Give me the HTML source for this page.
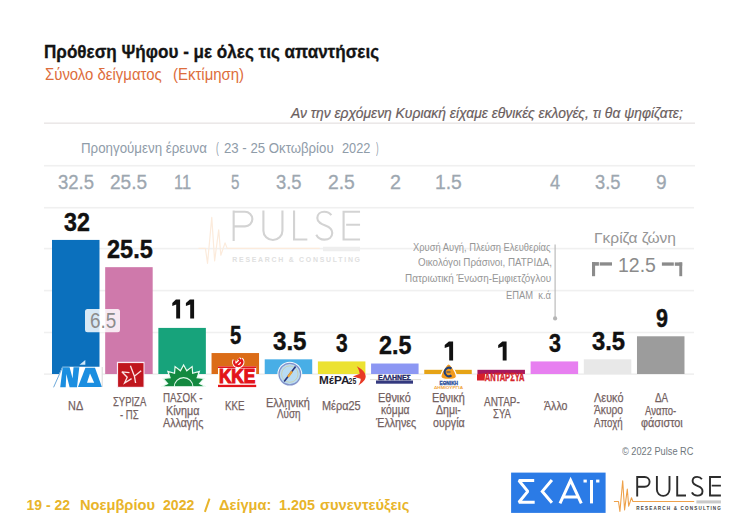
<!DOCTYPE html>
<html><head><meta charset="utf-8"><style>
html,body{margin:0;padding:0;background:#fff;}
body{width:734px;height:526px;position:relative;overflow:hidden;}
.t{position:absolute;white-space:pre;transform-origin:0 0;}
svg{position:absolute;left:0;top:0;}
</style></head><body>
<svg width="734" height="526" viewBox="0 0 734 526">
<rect x="44.00" y="122.40" width="651.00" height="1.60" fill="#ebe8e8" />
<rect x="44.00" y="164.90" width="651.00" height="1.60" fill="#f0f0f0" />
<rect x="44.00" y="206.90" width="650.00" height="1.60" fill="#f0f0f0" />
<rect x="44.00" y="247.80" width="650.00" height="1.60" fill="#f0f0f0" />
<rect x="44.00" y="289.80" width="650.00" height="1.60" fill="#f0f0f0" />
<rect x="44.00" y="331.70" width="650.00" height="1.60" fill="#f0f0f0" />
<rect x="44.00" y="373.30" width="650.00" height="1.60" fill="#efefef" />
<g transform="translate(232.3,210.4) scale(1.51,1.49)" opacity="1">
<g fill="none" stroke="#d3d3d3" stroke-width="1.4" stroke-linecap="butt" stroke-linejoin="miter">
<path d="M0.9,0 V20.5 M0.9,0.95 H8.4 A4.9,4.9 0 0 1 8.4,10.75 H0.9"/>
<path d="M20.6,0 V13.6 A6.3,6.3 0 0 0 33.2,13.6 V0"/>
<path d="M40.9,0 V19.5 H49.7"/>
<path d="M65.6,3.2 C64.4,1.4 62.8,0.9 60.9,0.9 C58.2,0.9 56.3,2.6 56.3,5.1 C56.3,8.2 59.2,9.3 61.6,10.2 C64,11.1 66.2,12.4 66.2,15.2 C66.2,18 63.9,19.6 61,19.6 C58.6,19.6 56.7,18.5 55.6,16.3"/>
<path d="M84.6,0.95 H73.7 V19.55 H84.6 M75.4,9.6 H84.6"/>
</g>
<polyline fill="none" stroke="#fcebdc" stroke-width="0.8" stroke-linejoin="round" points="-22.4,25.5 -17.8,25.5 -16.4,35.5 -13.6,4.7 -11.7,33.9 -9,13 -7.6,30.1 -4.8,21.8 -3.4,25.5 57.9,25.5"/>
<rect x="60.1" y="24.4" width="24.5" height="3" fill="#eeeeee"/>
<text x="0" y="34.4" font-family="Liberation Sans, sans-serif" font-weight="bold" font-size="4.6" fill="#e0e0e0" textLength="84.6" lengthAdjust="spacing">RESEARCH &amp; CONSULTING</text>
</g>
<rect x="52.00" y="239.92" width="47.50" height="134.08" fill="#0b70bd" />
<rect x="105.18" y="267.16" width="47.50" height="106.84" fill="#cf79ab" />
<rect x="158.36" y="327.91" width="47.50" height="46.09" fill="#17a37b" />
<rect x="211.54" y="353.05" width="47.50" height="20.95" fill="#db6c17" />
<rect x="264.72" y="359.33" width="47.50" height="14.66" fill="#48aee6" />
<rect x="317.90" y="361.43" width="47.50" height="12.57" fill="#ece231" />
<rect x="371.08" y="363.52" width="47.50" height="10.47" fill="#8c97f3" />
<rect x="424.26" y="369.81" width="47.50" height="4.19" fill="#e6a417" />
<rect x="477.44" y="369.81" width="47.50" height="4.19" fill="#a4195e" />
<rect x="530.62" y="361.43" width="47.50" height="12.57" fill="#e77ff0" />
<rect x="583.80" y="359.33" width="47.50" height="14.66" fill="#e8e8e8" />
<rect x="636.98" y="336.29" width="47.50" height="37.71" fill="#9c9c9c" />

<!-- ND -->
<polygon points="62.3,366.8 102.6,366.8 102.6,387.5 53.3,387.5" fill="#fff"/>
<line x1="53.6" y1="387.3" x2="62.6" y2="367" stroke="#5e9fd6" stroke-width="0.9"/>
<polygon points="62.7,367.2 69.6,367.2 72.6,378.5 73.5,367.2 79.3,367.2 77,387.2 69.6,387.2 66.3,374 65.7,387.2 60.2,387.2" fill="#1b8ee0"/>
<polygon points="85.4,367.7 95,367.7 101.9,387 78,387" fill="#1b8ee0"/>
<polygon points="90,373.4 94.2,382.7 87,382.7" fill="#fff"/>
<polygon points="79.5,364.7 85.3,359.9 85.3,364.7" fill="#cfe8fa"/>
<line x1="102.2" y1="367" x2="102.2" y2="387" stroke="#c8c8c8" stroke-width="0.7"/>
<!-- SYRIZA -->
<rect x="116.9" y="361.8" width="27.6" height="26" fill="#fbe9f3"/>
<rect x="118.1" y="363.1" width="25.4" height="23.7" fill="#c0151d"/>
<g fill="none" stroke="#fbe3e3" stroke-width="1.35" stroke-linejoin="miter">
<path d="M121.8,371.8 L129.5,372.6 M121.8,371.8 L127.2,377.2 L124.6,383 L131.6,378.6"/>
<path d="M130.4,365.7 L134.4,376.2 L141.2,370.8 M134.4,376.2 L135.6,383"/>
</g>
<!-- PASOK -->
<g>
<polygon id="sun" fill="#13893f" stroke="#e9fbf2" stroke-width="1.2" points="161.30,386.80 167.61,383.62 163.00,378.42 170.05,377.74 167.83,371.31 174.54,373.25 175.07,366.57 180.42,370.81 183.60,364.90 186.78,370.81 192.13,366.57 192.66,373.25 199.37,371.31 197.15,377.74 204.20,378.42 199.59,383.62 205.90,386.80"/>
<rect x="160" y="386.9" width="48" height="2" fill="#fff"/>
<path d="M174.2,387 A9.4,9.4 0 0 1 193,387" fill="none" stroke="#dff7ea" stroke-width="1.1"/>
</g>
<!-- KKE -->
<rect x="218" y="366.4" width="38.2" height="20.8" fill="#fff"/>
<rect x="218" y="366.4" width="38.2" height="1.6" fill="#e3141b"/>
<rect x="218" y="384.8" width="38.2" height="2.3" fill="#e3141b"/>
<text x="218.9" y="382.9" font-family="Liberation Sans, sans-serif" font-weight="bold" font-size="19.4" fill="#e3141b" stroke="#e3141b" stroke-width="1.2" textLength="36.5" lengthAdjust="spacingAndGlyphs">ΚΚΕ</text>
<g transform="translate(238.1,362.6)">
<path d="M-3.4,-2.4 A4,4 0 1 0 3,-3.4" fill="none" stroke="#fff" stroke-width="4.4"/>
<path d="M-3,3.4 L2.4,-2 M0.4,-4 L4.2,-0.2" fill="none" stroke="#fff" stroke-width="4"/>
<path d="M-3.4,-2.4 A4,4 0 1 0 3,-3.4" fill="none" stroke="#e3141b" stroke-width="2.2"/>
<path d="M-3,3.4 L2.4,-2 M0.4,-4 L4.2,-0.2" fill="none" stroke="#e3141b" stroke-width="1.9"/>
</g>
<!-- EL compass -->
<circle cx="289.8" cy="374.1" r="12.4" fill="#f4fbff"/>
<circle cx="289.8" cy="374.1" r="10.8" fill="#b8dcf3" stroke="#8392c9" stroke-width="1.2"/>
<circle cx="289.8" cy="374.1" r="8.2" fill="none" stroke="#d9c37a" stroke-width="0.5"/>
<line x1="284.2" y1="381.4" x2="295.6" y2="366.6" stroke="#26327a" stroke-width="1.6"/>
<line x1="288" y1="376.8" x2="292" y2="371.4" stroke="#f0a030" stroke-width="2.2"/>
<!-- MERA25 -->
<text x="319" y="384.2" font-family="Liberation Sans, sans-serif" font-weight="bold" font-size="11.4" fill="#1e1d2b" textLength="30.5" lengthAdjust="spacingAndGlyphs">ΜέΡΑ</text>
<text x="348.6" y="384.2" font-family="Liberation Sans, sans-serif" font-weight="bold" font-size="8.6" fill="#1e1d2b" textLength="7.6" lengthAdjust="spacingAndGlyphs">25</text>
<path d="M356.8,366.3 C361,368.5 365.5,372 365.7,376.3 C365.8,380 362,383 358.3,385.5 C360,382.5 361,380.5 360.6,378.8 L352.8,376.4 L359.7,373.8 C359.4,371 358.3,368.5 356.8,366.3 Z" fill="#e83a26"/>
<!-- ELLINES -->
<line x1="370" y1="379.6" x2="421" y2="379.6" stroke="#c9c6b8" stroke-width="0.6"/>
<text x="378" y="379.8" font-family="Liberation Sans, sans-serif" font-weight="bold" font-size="7.6" fill="#1f2766" stroke="#1f2766" stroke-width="0.35" textLength="32.8" lengthAdjust="spacingAndGlyphs">ΕΛΛΗΝΕΣ</text>
<rect x="376" y="380.5" width="37" height="3.2" fill="#34397f"/>
<!-- ETHNIKI DIMIOURGIA -->
<path d="M448.7,363.9 C451,363.9 456.4,373 456.4,376.5 C456.4,379 452,379.4 448.7,379.4 C445.4,379.4 440.9,379 440.9,376.5 C440.9,373 446.4,363.9 448.7,363.9 Z" fill="#f29a1e" stroke="#fff" stroke-width="1.2"/>
<path d="M451.5,368.6 A4.2,4.2 0 1 0 451.5,375.4" fill="none" stroke="#1f3f7a" stroke-width="2"/>
<line x1="446.5" y1="372" x2="450.5" y2="372" stroke="#1f3f7a" stroke-width="1"/>
<text x="439.5" y="384.9" font-family="Liberation Sans, sans-serif" font-weight="bold" font-size="4.8" fill="#2a4f9c" stroke="#2a4f9c" stroke-width="0.3" textLength="18.5" lengthAdjust="spacingAndGlyphs">ΕΘΝΙΚΗ</text>
<text x="434" y="388.6" font-family="Liberation Sans, sans-serif" font-weight="bold" font-size="4" fill="#f0a23a" textLength="29" lengthAdjust="spacingAndGlyphs">ΔΗΜΙΟΥΡΓΙΑ</text>
<!-- ANTARSYA -->
<polygon points="477,374.3 485.2,373.2 484.6,380.5 477,380.5" fill="#d81f2a"/>
<text x="484.8" y="380.5" font-family="Liberation Sans, sans-serif" font-weight="bold" font-size="10.2" fill="#d5232b" stroke="#d5232b" stroke-width="0.35" textLength="39.6" lengthAdjust="spacingAndGlyphs">ΑΝΤΑΡΣΥΑ</text>


<rect x="85" y="309" width="35" height="23.3" rx="2.5" fill="#fff" fill-opacity="0.84"/>
<line x1="555.1" y1="244.6" x2="555.1" y2="318.4" stroke="#b5b5b5" stroke-width="1.1"/>
<circle cx="555.1" cy="318.4" r="2.1" fill="#b5b5b5"/>
<g fill="#8b8b8b">
<rect x="592" y="262.1" width="3.1" height="14.1"/>
<rect x="592" y="262.1" width="6.9" height="3.6"/>
<rect x="599.7" y="262.3" width="12.3" height="3.3"/>
<rect x="661.9" y="262.4" width="11.9" height="3.3"/>
<rect x="674.8" y="262.4" width="7.4" height="3.4"/>
<rect x="679.3" y="262.4" width="2.9" height="13.8"/>
</g>

<polygon fill="#111" points="175.90,299.61 180.10,299.61 180.10,318.51 176.20,318.51 176.20,304.61 172.30,306.11 172.30,303.01"/>
<polygon fill="#111" points="189.90,299.61 194.10,299.61 194.10,318.51 190.20,318.51 190.20,304.61 185.90,306.11 185.90,303.01"/>
<polygon fill="#111" points="448.90,341.51 453.10,341.51 453.10,360.41 449.20,360.41 449.20,346.51 444.70,348.01 444.70,344.91"/>
<polygon fill="#111" points="502.40,341.51 506.60,341.51 506.60,360.41 502.70,360.41 502.70,346.51 498.20,348.01 498.20,344.91"/>

<rect x="511.1" y="472.6" width="94.5" height="40.3" fill="#2b7be6"/>
<g fill="none" stroke="#fff" stroke-width="3" stroke-linejoin="miter" stroke-miterlimit="10">
<path d="M534.2,480.5 H518.9 L527.8,491.4 L518.9,502.2 H534.7" stroke-linejoin="bevel"/>
<path d="M551.9,480 L542.3,491.4 L551.9,502.8"/>
<path d="M560,503.4 L570.6,480.4 L581.3,503.4 M563.8,497 H577.6"/>
<path d="M591.5,480 V503.4"/>
</g>
<rect x="583.5" y="479.6" width="3.3" height="2.9" fill="#fff"/>
<rect x="596.1" y="479.6" width="3.3" height="2.9" fill="#fff"/>

<line x1="209.5" y1="498.6" x2="204.9" y2="511.9" stroke="#e8b42a" stroke-width="2"/>
<g transform="translate(636.3,476.0) scale(1.0,1.0)" opacity="1">
<g fill="none" stroke="#2d2d2d" stroke-width="1.9" stroke-linecap="butt" stroke-linejoin="miter">
<path d="M0.9,0 V20.5 M0.9,0.95 H8.4 A4.9,4.9 0 0 1 8.4,10.75 H0.9"/>
<path d="M20.6,0 V13.6 A6.3,6.3 0 0 0 33.2,13.6 V0"/>
<path d="M40.9,0 V19.5 H49.7"/>
<path d="M65.6,3.2 C64.4,1.4 62.8,0.9 60.9,0.9 C58.2,0.9 56.3,2.6 56.3,5.1 C56.3,8.2 59.2,9.3 61.6,10.2 C64,11.1 66.2,12.4 66.2,15.2 C66.2,18 63.9,19.6 61,19.6 C58.6,19.6 56.7,18.5 55.6,16.3"/>
<path d="M84.6,0.95 H73.7 V19.55 H84.6 M75.4,9.6 H84.6"/>
</g>
<polyline fill="none" stroke="#eea14a" stroke-width="1.1" stroke-linejoin="round" points="-22.4,25.5 -17.8,25.5 -16.4,35.5 -13.6,4.7 -11.7,33.9 -9,13 -7.6,30.1 -4.8,21.8 -3.4,25.5 57.9,25.5"/>
<rect x="60.1" y="24.4" width="24.5" height="3" fill="#c9c9c9"/>
<text x="0" y="34.4" font-family="Liberation Sans, sans-serif" font-weight="bold" font-size="4.6" fill="#444444" textLength="84.6" lengthAdjust="spacing">RESEARCH &amp; CONSULTING</text>
</g>
</svg>
<div class="t" style="left:43.95px;top:43.40px;font:normal bold 18px/18px 'Liberation Sans', sans-serif;color:#141414;transform:scaleX(0.9489);-webkit-text-stroke:0.3px #141414;">Πρόθεση Ψήφου - με όλες τις απαντήσεις</div>
<div class="t" style="left:44.50px;top:65.80px;font:normal normal 16.2px/16.2px 'Liberation Sans', sans-serif;color:#dd6d3c;transform:scaleX(0.9222);">Σύνολο δείγματος</div>
<div class="t" style="left:172.68px;top:65.80px;font:normal normal 16.2px/16.2px 'Liberation Sans', sans-serif;color:#dd6d3c;transform:scaleX(0.9233);">(Εκτίμηση)</div>
<div class="t" style="left:291.18px;top:105.50px;font:italic normal 14.2px/14.2px 'Liberation Sans', sans-serif;color:#6a5d5d;transform:scaleX(0.9764);-webkit-text-stroke:0.2px #6a5d5d;">Αν την ερχόμενη Κυριακή είχαμε εθνικές εκλογές, τι θα ψηφίζατε;</div>
<div class="t" style="left:81.05px;top:140.90px;font:normal normal 14px/14px 'Liberation Sans', sans-serif;color:#8f9ca9;transform:scaleX(0.9514);">Προηγούμενη έρευνα</div>
<div class="t" style="left:215.80px;top:140.90px;font:normal normal 14px/14px 'Liberation Sans', sans-serif;color:#8f9ca9;transform:scaleX(0.6000);">(</div>
<div class="t" style="left:223.50px;top:140.90px;font:normal normal 14px/14px 'Liberation Sans', sans-serif;color:#8f9ca9;transform:scaleX(0.9434);">23 - 25 Οκτωβρίου</div>
<div class="t" style="left:342.30px;top:140.90px;font:normal normal 14px/14px 'Liberation Sans', sans-serif;color:#8f9ca9;transform:scaleX(0.9120);">2022</div>
<div class="t" style="left:376.30px;top:140.90px;font:normal normal 14px/14px 'Liberation Sans', sans-serif;color:#8f9ca9;transform:scaleX(0.5500);">)</div>
<div class="t" style="left:58.20px;top:171.90px;font:normal normal 20.5px/20.5px 'Liberation Sans', sans-serif;color:#9da7b0;transform:scaleX(0.9038);-webkit-text-stroke:0.3px #9da7b0;">32.5</div>
<div class="t" style="left:64.20px;top:208.52px;font:normal bold 26px/26px 'Liberation Sans', sans-serif;color:#111111;transform:scaleX(0.8925);-webkit-text-stroke:0.45px #111;">32</div>
<div class="t" style="left:110.37px;top:171.90px;font:normal normal 20.5px/20.5px 'Liberation Sans', sans-serif;color:#9da7b0;transform:scaleX(0.9299);-webkit-text-stroke:0.3px #9da7b0;">25.5</div>
<div class="t" style="left:107.20px;top:235.76px;font:normal bold 26px/26px 'Liberation Sans', sans-serif;color:#111111;transform:scaleX(0.9034);-webkit-text-stroke:0.45px #111;">25.5</div>
<div class="t" style="left:174.30px;top:171.90px;font:normal normal 20.5px/20.5px 'Liberation Sans', sans-serif;color:#9da7b0;transform:scaleX(0.7998);-webkit-text-stroke:0.3px #9da7b0;">11</div>
<div class="t" style="left:231.10px;top:171.90px;font:normal normal 20.5px/20.5px 'Liberation Sans', sans-serif;color:#9da7b0;transform:scaleX(0.7364);-webkit-text-stroke:0.3px #9da7b0;">5</div>
<div class="t" style="left:230.00px;top:321.65px;font:normal bold 26px/26px 'Liberation Sans', sans-serif;color:#111111;transform:scaleX(0.7786);-webkit-text-stroke:0.45px #111;">5</div>
<div class="t" style="left:276.00px;top:171.90px;font:normal normal 20.5px/20.5px 'Liberation Sans', sans-serif;color:#9da7b0;transform:scaleX(0.8969);-webkit-text-stroke:0.3px #9da7b0;">3.5</div>
<div class="t" style="left:272.50px;top:327.94px;font:normal bold 26px/26px 'Liberation Sans', sans-serif;color:#111111;transform:scaleX(0.9276);-webkit-text-stroke:0.45px #111;">3.5</div>
<div class="t" style="left:328.26px;top:171.90px;font:normal normal 20.5px/20.5px 'Liberation Sans', sans-serif;color:#9da7b0;transform:scaleX(0.9411);-webkit-text-stroke:0.3px #9da7b0;">2.5</div>
<div class="t" style="left:336.10px;top:330.03px;font:normal bold 26px/26px 'Liberation Sans', sans-serif;color:#111111;transform:scaleX(0.8071);-webkit-text-stroke:0.45px #111;">3</div>
<div class="t" style="left:389.54px;top:171.90px;font:normal normal 20.5px/20.5px 'Liberation Sans', sans-serif;color:#9da7b0;transform:scaleX(0.9600);-webkit-text-stroke:0.3px #9da7b0;">2</div>
<div class="t" style="left:378.90px;top:332.12px;font:normal bold 26px/26px 'Liberation Sans', sans-serif;color:#111111;transform:scaleX(0.8968);-webkit-text-stroke:0.45px #111;">2.5</div>
<div class="t" style="left:434.56px;top:171.90px;font:normal normal 20.5px/20.5px 'Liberation Sans', sans-serif;color:#9da7b0;transform:scaleX(0.9411);-webkit-text-stroke:0.3px #9da7b0;">1.5</div>
<div class="t" style="left:550.40px;top:171.90px;font:normal normal 20.5px/20.5px 'Liberation Sans', sans-serif;color:#9da7b0;transform:scaleX(0.8909);-webkit-text-stroke:0.3px #9da7b0;">4</div>
<div class="t" style="left:548.90px;top:330.03px;font:normal bold 26px/26px 'Liberation Sans', sans-serif;color:#111111;transform:scaleX(0.8286);-webkit-text-stroke:0.45px #111;">3</div>
<div class="t" style="left:595.40px;top:171.90px;font:normal normal 20.5px/20.5px 'Liberation Sans', sans-serif;color:#9da7b0;transform:scaleX(0.8933);-webkit-text-stroke:0.3px #9da7b0;">3.5</div>
<div class="t" style="left:591.80px;top:327.94px;font:normal bold 26px/26px 'Liberation Sans', sans-serif;color:#111111;transform:scaleX(0.9164);-webkit-text-stroke:0.45px #111;">3.5</div>
<div class="t" style="left:655.70px;top:171.90px;font:normal normal 20.5px/20.5px 'Liberation Sans', sans-serif;color:#9da7b0;transform:scaleX(0.9273);-webkit-text-stroke:0.3px #9da7b0;">9</div>
<div class="t" style="left:655.60px;top:304.89px;font:normal bold 26px/26px 'Liberation Sans', sans-serif;color:#111111;transform:scaleX(0.8286);-webkit-text-stroke:0.45px #111;">9</div>
<div class="t" style="left:67.83px;top:400.20px;font:normal normal 12.5px/12.5px 'Liberation Sans', sans-serif;color:#74615f;transform:scaleX(0.8735);-webkit-text-stroke:0.25px #74615f;">ΝΔ</div>
<div class="t" style="left:113.00px;top:396.30px;font:normal normal 12.5px/12.5px 'Liberation Sans', sans-serif;color:#74615f;transform:scaleX(0.7571);-webkit-text-stroke:0.25px #74615f;">ΣΥΡΙΖΑ</div>
<div class="t" style="left:120.30px;top:408.50px;font:normal normal 12.5px/12.5px 'Liberation Sans', sans-serif;color:#74615f;transform:scaleX(0.7623);-webkit-text-stroke:0.25px #74615f;">- ΠΣ</div>
<div class="t" style="left:163.02px;top:392.00px;font:normal normal 12.5px/12.5px 'Liberation Sans', sans-serif;color:#74615f;transform:scaleX(0.7799);-webkit-text-stroke:0.25px #74615f;">ΠΑΣΟΚ -</div>
<div class="t" style="left:165.74px;top:404.80px;font:normal normal 12.5px/12.5px 'Liberation Sans', sans-serif;color:#74615f;transform:scaleX(0.8609);-webkit-text-stroke:0.25px #74615f;">Κίνημα</div>
<div class="t" style="left:163.00px;top:417.20px;font:normal normal 12.5px/12.5px 'Liberation Sans', sans-serif;color:#74615f;transform:scaleX(0.8561);-webkit-text-stroke:0.25px #74615f;">Αλλαγής</div>
<div class="t" style="left:225.42px;top:400.00px;font:normal normal 12.5px/12.5px 'Liberation Sans', sans-serif;color:#74615f;transform:scaleX(0.7814);-webkit-text-stroke:0.25px #74615f;">ΚΚΕ</div>
<div class="t" style="left:266.32px;top:396.50px;font:normal normal 12.5px/12.5px 'Liberation Sans', sans-serif;color:#74615f;transform:scaleX(0.8764);-webkit-text-stroke:0.25px #74615f;">Ελληνική</div>
<div class="t" style="left:277.10px;top:408.30px;font:normal normal 12.5px/12.5px 'Liberation Sans', sans-serif;color:#74615f;transform:scaleX(0.7859);-webkit-text-stroke:0.25px #74615f;">Λύση</div>
<div class="t" style="left:322.33px;top:400.00px;font:normal normal 12.5px/12.5px 'Liberation Sans', sans-serif;color:#74615f;transform:scaleX(0.8735);-webkit-text-stroke:0.25px #74615f;">Μέρα25</div>
<div class="t" style="left:378.32px;top:392.00px;font:normal normal 12.5px/12.5px 'Liberation Sans', sans-serif;color:#74615f;transform:scaleX(0.8760);-webkit-text-stroke:0.25px #74615f;">Εθνικό</div>
<div class="t" style="left:380.80px;top:404.40px;font:normal normal 12.5px/12.5px 'Liberation Sans', sans-serif;color:#74615f;transform:scaleX(0.8214);-webkit-text-stroke:0.25px #74615f;">κόμμα</div>
<div class="t" style="left:375.65px;top:417.10px;font:normal normal 12.5px/12.5px 'Liberation Sans', sans-serif;color:#74615f;transform:scaleX(0.8549);-webkit-text-stroke:0.25px #74615f;">Έλληνες</div>
<div class="t" style="left:431.73px;top:392.00px;font:normal normal 12.5px/12.5px 'Liberation Sans', sans-serif;color:#74615f;transform:scaleX(0.8724);-webkit-text-stroke:0.25px #74615f;">Εθνική</div>
<div class="t" style="left:436.20px;top:404.40px;font:normal normal 12.5px/12.5px 'Liberation Sans', sans-serif;color:#74615f;transform:scaleX(0.8436);-webkit-text-stroke:0.25px #74615f;">Δημι-</div>
<div class="t" style="left:433.00px;top:416.90px;font:normal normal 12.5px/12.5px 'Liberation Sans', sans-serif;color:#74615f;transform:scaleX(0.8531);-webkit-text-stroke:0.25px #74615f;">ουργία</div>
<div class="t" style="left:483.90px;top:396.00px;font:normal normal 12.5px/12.5px 'Liberation Sans', sans-serif;color:#74615f;transform:scaleX(0.7978);-webkit-text-stroke:0.25px #74615f;">ΑΝΤΑΡ-</div>
<div class="t" style="left:492.80px;top:408.30px;font:normal normal 12.5px/12.5px 'Liberation Sans', sans-serif;color:#74615f;transform:scaleX(0.7623);-webkit-text-stroke:0.25px #74615f;">ΣΥΑ</div>
<div class="t" style="left:543.60px;top:400.00px;font:normal normal 12.5px/12.5px 'Liberation Sans', sans-serif;color:#74615f;transform:scaleX(0.8498);-webkit-text-stroke:0.25px #74615f;">Άλλο</div>
<div class="t" style="left:593.60px;top:392.00px;font:normal normal 12.5px/12.5px 'Liberation Sans', sans-serif;color:#74615f;transform:scaleX(0.8714);-webkit-text-stroke:0.25px #74615f;">Λευκό</div>
<div class="t" style="left:593.60px;top:404.40px;font:normal normal 12.5px/12.5px 'Liberation Sans', sans-serif;color:#74615f;transform:scaleX(0.8188);-webkit-text-stroke:0.25px #74615f;">Άκυρο</div>
<div class="t" style="left:594.00px;top:417.10px;font:normal normal 12.5px/12.5px 'Liberation Sans', sans-serif;color:#74615f;transform:scaleX(0.7765);-webkit-text-stroke:0.25px #74615f;">Αποχή</div>
<div class="t" style="left:654.50px;top:392.00px;font:normal normal 12.5px/12.5px 'Liberation Sans', sans-serif;color:#74615f;transform:scaleX(0.7839);-webkit-text-stroke:0.25px #74615f;">ΔΑ</div>
<div class="t" style="left:645.40px;top:404.60px;font:normal normal 12.5px/12.5px 'Liberation Sans', sans-serif;color:#74615f;transform:scaleX(0.7588);-webkit-text-stroke:0.25px #74615f;">Αναπο-</div>
<div class="t" style="left:640.60px;top:417.10px;font:normal normal 12.5px/12.5px 'Liberation Sans', sans-serif;color:#74615f;transform:scaleX(0.8684);-webkit-text-stroke:0.25px #74615f;">φάσιστοι</div>
<div class="t" style="left:412.60px;top:243.30px;font:normal normal 10px/10px 'Liberation Sans', sans-serif;color:#969696;transform:scaleX(0.9365);">Χρυσή Αυγή, Πλεύση Ελευθερίας</div>
<div class="t" style="left:417.60px;top:258.40px;font:normal normal 10px/10px 'Liberation Sans', sans-serif;color:#969696;transform:scaleX(0.9816);">Οικολόγοι Πράσινοι, ΠΑΤΡΙΔΑ,</div>
<div class="t" style="left:405.20px;top:274.30px;font:normal normal 10px/10px 'Liberation Sans', sans-serif;color:#969696;transform:scaleX(0.9914);">Πατριωτική Ένωση-Εμφιετζόγλου</div>
<div class="t" style="left:505.63px;top:291.40px;font:normal normal 10px/10px 'Liberation Sans', sans-serif;color:#969696;transform:scaleX(0.9365);">ΕΠΑΜ  κ.ά</div>
<div class="t" style="left:593.97px;top:229.70px;font:normal normal 15px/15px 'Liberation Sans', sans-serif;color:#959595;transform:scaleX(1.0347);">Γκρίζα ζώνη</div>
<div class="t" style="left:618.23px;top:254.60px;font:normal normal 20px/20px 'Liberation Sans', sans-serif;color:#8b8b8b;transform:scaleX(0.9735);">12.5</div>
<div class="t" style="left:89.62px;top:311.20px;font:normal normal 21.5px/21.5px 'Liberation Sans', sans-serif;color:#8c8c8c;transform:scaleX(0.8780);">6.5</div>
<div class="t" style="left:621.60px;top:446.70px;font:normal normal 10px/10px 'Liberation Sans', sans-serif;color:#6f777d;transform:scaleX(0.9225);">© 2022 Pulse RC</div>
<div class="t" style="left:26.50px;top:497.90px;font:normal bold 14px/14px 'Liberation Sans', sans-serif;color:#e8b42a;">19 - 22</div>
<div class="t" style="left:80.00px;top:497.90px;font:normal bold 14px/14px 'Liberation Sans', sans-serif;color:#e8b42a;transform:scaleX(1.0459);">Νοεμβρίου</div>
<div class="t" style="left:163.30px;top:497.90px;font:normal bold 14px/14px 'Liberation Sans', sans-serif;color:#e8b42a;transform:scaleX(1.0045);">2022</div>
<div class="t" style="left:218.80px;top:497.90px;font:normal bold 14px/14px 'Liberation Sans', sans-serif;color:#e8b42a;transform:scaleX(1.0413);">Δείγμα:</div>
<div class="t" style="left:279.40px;top:497.90px;font:normal bold 14px/14px 'Liberation Sans', sans-serif;color:#e8b42a;transform:scaleX(1.0270);">1.205</div>
<div class="t" style="left:320.20px;top:497.90px;font:normal bold 14px/14px 'Liberation Sans', sans-serif;color:#e8b42a;transform:scaleX(1.0501);">συνεντεύξεις</div>
</body></html>
